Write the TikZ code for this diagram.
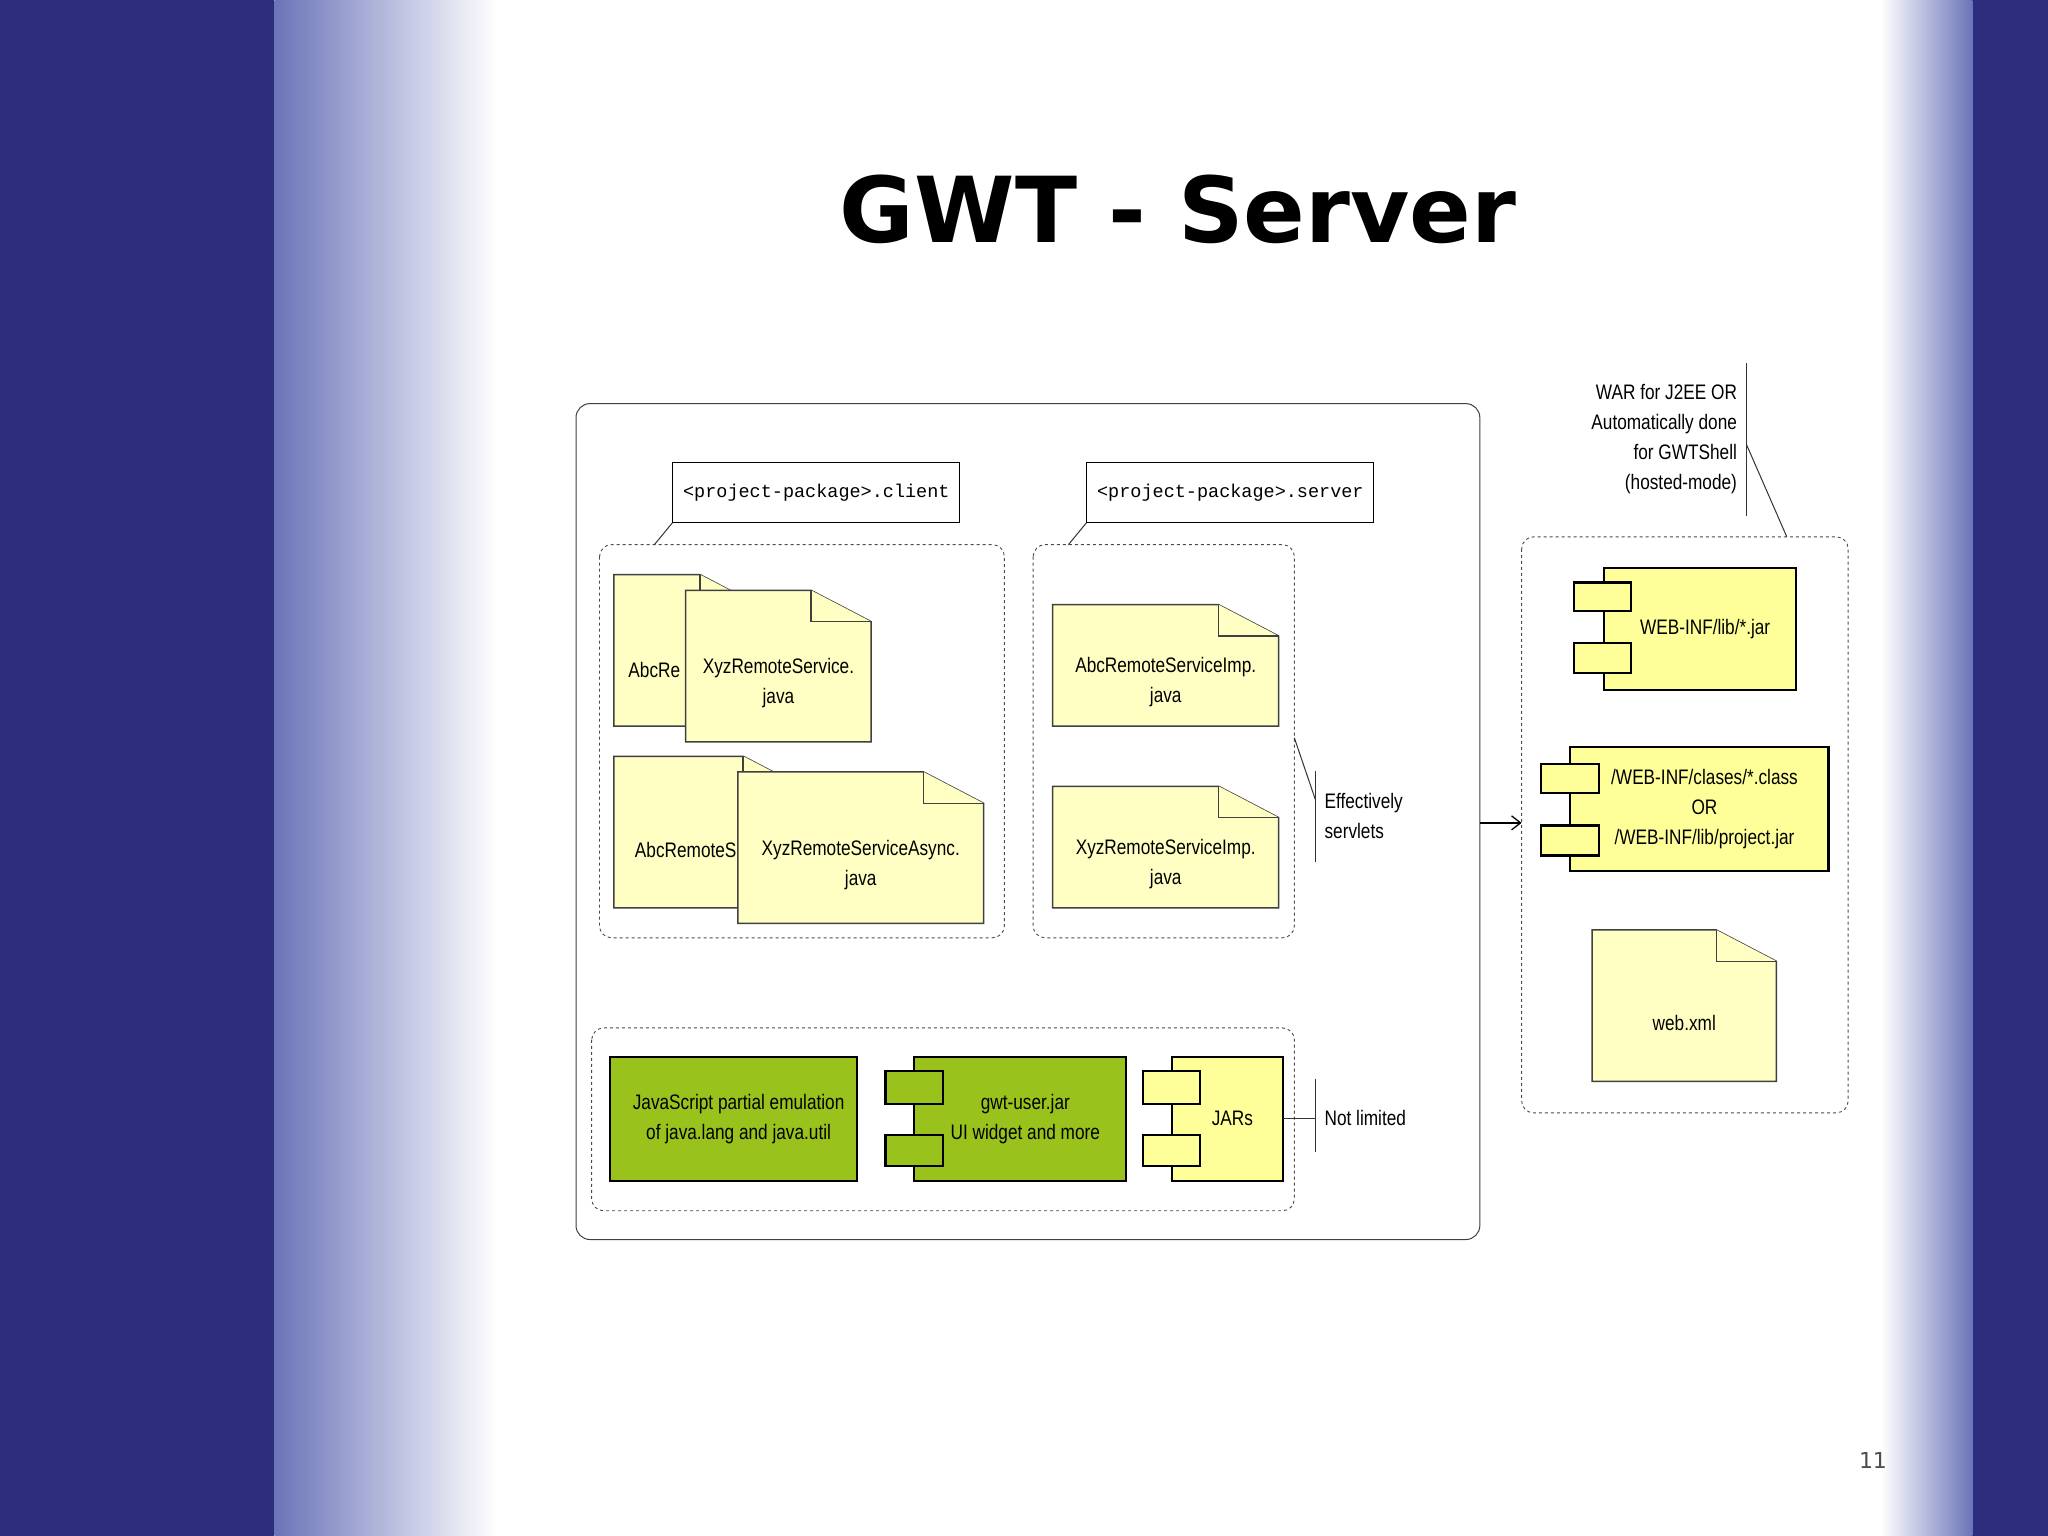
\documentclass[tikz,border=0pt]{standalone}
\usepackage{fontspec}
\usetikzlibrary{arrows.meta}
\setmainfont{Liberation Sans}
\newfontfamily\narrowf{Liberation Sans}[FakeStretch=0.82]
\newfontfamily\monof{Liberation Mono}
\newfontfamily\titlef{DejaVu Sans}
\definecolor{bgblue}{HTML}{2E2C7C}
\definecolor{edgeblue}{HTML}{6B74B8}
\definecolor{fileyel}{HTML}{FFFFC4}
\definecolor{compyel}{HTML}{FFFF99}
\definecolor{gwtgreen}{HTML}{99C31C}
\begin{document}
\begin{tikzpicture}[x=1.306pt,y=-1.306pt,
  txt/.style={font=\narrowf\fontsize{21}{25}\selectfont,align=center,inner sep=0},
  dashbox/.style={draw=black!70,dashed,rounded corners=12pt,line width=0.9pt},
  file/.style={draw=black!75,fill=fileyel,line width=1.5pt},
  comp/.style={draw=black,fill=compyel,line width=2.2pt},
  gcomp/.style={draw=black,fill=gwtgreen,line width=2.2pt},
  thin/.style={draw=black!80,line width=1pt},
  mono/.style={draw,line width=1.2pt,minimum width=287pt,minimum height=60pt,font=\monof\fontsize{18.5}{20}\selectfont}]
\useasboundingbox (0,0) rectangle (1568,1176);
\fill[bgblue] (0,0) rectangle (1568,1176);
\fill[white] (210,0) rectangle (1510,1176);
\shade[left color=edgeblue,right color=white] (210,0) rectangle (380,1176);
\shade[left color=white,right color=edgeblue] (1440,0) rectangle (1510,1176);
\fill[white] (425,242) rectangle (1427,973);
\node[font=\titlef\bfseries\fontsize{91}{100}\selectfont] (title) at (902,160) {GWT - Server};
\node[font=\titlef\fontsize{22}{24}\selectfont,text=black!70] (pg) at (1434,1118) {11};
\newcommand\docfile[6]{%
 \draw[file] (#2,#3) -- (#4-46,#3) -- (#4,#3+24) -- (#4,#5) -- (#2,#5) -- cycle;
 \draw[file] (#4-46,#3) -- (#4-46,#3+24) -- (#4,#3+24);
 \node[txt] (#1) at ({(#2+#4)/2},{(#3+#5)/2+13}) {#6};}
\newcommand\compbox[7]{%
 \draw[#6] (#2,#3) rectangle (#4,#5);
 \node[txt] (#1) at ({(#2+#4)/2+4},{(#3+#5)/2}) {#7};}
\newcommand\tab[4]{\draw[#4] (#1,#2) rectangle (#1+44,#3);}
% outer
\draw[black!75,rounded corners=14pt,line width=1pt] (441,309) rectangle (1133,949);
\coordinate (outE) at (1133,630);
% client
\node[mono] (cnote) at (625,377) {<project-package>.client};
\draw[dashbox] (459,417) rectangle (769,718);
\draw[thin] (cnote.south west) -- (501,417);
\docfile{abc1}{470}{440}{582}{556}{}
\node[txt,anchor=west] at (481,513) {AbcRe};
\docfile{xyz1}{525}{452}{667}{568}{XyzRemoteService.\\[5pt]java}
\docfile{abc2}{470}{579}{615}{695}{}
\node[txt,anchor=west] at (486,651) {AbcRemoteS};
\docfile{xyz2}{565}{591}{753}{707}{XyzRemoteServiceAsync.\\[5pt]java}
% server
\node[mono] (snote) at (942,377) {<project-package>.server};
\draw[dashbox] (791,417) rectangle (991,718);
\draw[thin] (snote.south west) -- (818,417);
\docfile{abcimp}{806}{463}{979}{556}{AbcRemoteServiceImp.\\[5pt]java}
\docfile{xyzimp}{806}{602}{979}{695}{XyzRemoteServiceImp.\\[5pt]java}
\coordinate (sb1) at (1007,590); \coordinate (sb2) at (1007,660); \coordinate (sbm) at (1007,612);
\draw[thin] (sb1) -- (sb2);
\draw[thin] (991,565) -- (sbm);
\node[txt,align=left,anchor=west] (eff) at (1014,625) {Effectively\\[5pt]servlets};
% bottom
\draw[dashbox] (453,787) rectangle (991,927);
\compbox{js}{467}{809}{656}{904}{gcomp}{JavaScript partial emulation\\[5pt]of java.lang and java.util}
\compbox{gwt}{700}{809}{862}{904}{gcomp}{gwt-user.jar\\[5pt]UI widget and more}
\tab{678}{820}{845}{gcomp}\tab{678}{869}{893}{gcomp}
\compbox{jars}{897}{809}{982}{904}{comp}{JARs}
\tab{875}{820}{845}{comp}\tab{875}{869}{893}{comp}
\draw[thin] (982,856) -- (1007,856);
\draw[thin] (1007,826) -- (1007,882);
\node[txt,anchor=west] (nl) at (1014,856) {Not limited};
% right
\draw[dashbox] (1165,411) rectangle (1415,852);
\coordinate (rW) at (1165,630);
\draw[black,line width=1.3pt,-{Straight Barb[length=9pt,width=14pt]}] (outE) -- (rW);
\node[txt,align=right,anchor=east] (war) at (1330,336) {WAR for J2EE OR\\[5pt]Automatically done\\[5pt]for GWTShell\\[5pt](hosted-mode)};
\draw[thin] (1337,278) -- (1337,395);
\draw[thin] (1337,340) -- (1368,411);
\compbox{lib}{1228}{435}{1375}{528}{comp}{WEB-INF/lib/*.jar}
\tab{1205}{446}{468}{comp}\tab{1205}{492}{515}{comp}
\compbox{cls}{1202}{572}{1400}{667}{comp}{/WEB-INF/clases/*.class\\[5pt]OR\\[5pt]/WEB-INF/lib/project.jar}
\tab{1180}{585}{607}{comp}\tab{1180}{632}{655}{comp}
\docfile{webxml}{1219}{712}{1360}{828}{web.xml}
\end{tikzpicture}
\end{document}
